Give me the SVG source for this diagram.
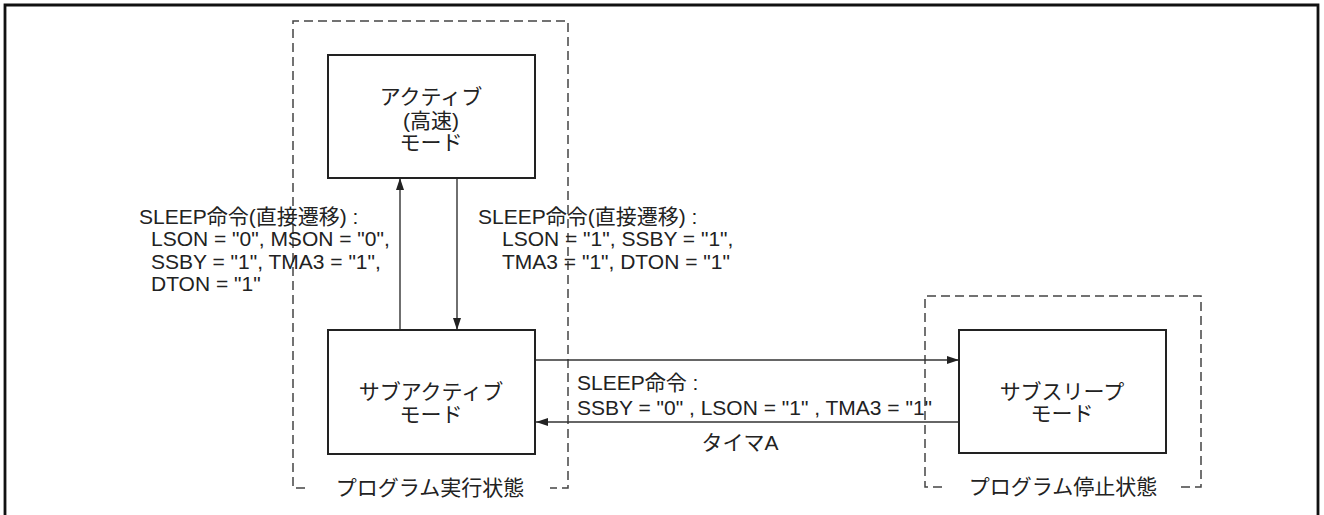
<svg xmlns="http://www.w3.org/2000/svg" width="1324" height="515" viewBox="0 0 1324 515">
<defs>
<style>
.t{font-family:"Liberation Sans","Noto Sans CJK JP",sans-serif;font-size:21px;fill:#222}
.c{text-anchor:middle}
.box{fill:#fff;stroke:#222;stroke-width:2}
.dash{fill:none;stroke:#444;stroke-width:1.5;stroke-dasharray:9 5}
.ln{fill:none;stroke:#333;stroke-width:1.4}
</style>
<marker id="ah" viewBox="0 0 12 8" refX="12" refY="4" markerWidth="12" markerHeight="8" markerUnits="userSpaceOnUse" orient="auto">
<path d="M0,0 L12,4 L0,8 Z" fill="#222"/>
</marker>
</defs>
<rect x="0" y="0" width="1324" height="515" fill="#fff"/>
<path d="M5,520 V5 H1318 V520" fill="none" stroke="#111" stroke-width="2.8"/>

<g id="group-run">
<path class="dash" d="M305,488 H293 V21 H568 V488 H550"/>
<text class="t c" x="430" y="495">プログラム実行状態</text>
</g>
<g id="group-stop">
<path class="dash" d="M942,487 H925 V296 H1201 V487 H1180"/>
<text class="t c" x="1063" y="494">プログラム停止状態</text>
</g>

<g id="connectors">
<line class="ln" x1="400" y1="330" x2="400" y2="178" marker-end="url(#ah)"/>
<line class="ln" x1="457" y1="178" x2="457" y2="330" marker-end="url(#ah)"/>
<line class="ln" x1="535" y1="360" x2="959" y2="360" marker-end="url(#ah)"/>
<line class="ln" x1="959" y1="422" x2="536" y2="422" marker-end="url(#ah)"/>
<text class="t"><tspan x="139" y="224">SLEEP命令(直接遷移) :</tspan><tspan x="151" y="246">LSON = "0", MSON = "0",</tspan><tspan x="151" y="269">SSBY = "1", TMA3 = "1",</tspan><tspan x="151" y="291">DTON = "1"</tspan></text>
<text class="t"><tspan x="478" y="224">SLEEP命令(直接遷移) :</tspan><tspan x="502" y="246">LSON = "1", SSBY = "1",</tspan><tspan x="502" y="269">TMA3 = "1", DTON = "1"</tspan></text>
<text class="t"><tspan x="577" y="390">SLEEP命令 :</tspan><tspan x="577" y="415">SSBY = "0" , LSON = "1" , TMA3 = "1"</tspan></text>
<text class="t c" x="740" y="450">タイマA</text>
</g>

<g id="active">
<rect class="box" x="328" y="55" width="207" height="123"/>
<text class="t c"><tspan x="431" y="104">アクティブ</tspan><tspan x="431" y="128">(高速)</tspan><tspan x="431" y="150">モード</tspan></text>
</g>
<g id="subactive">
<rect class="box" x="328" y="330" width="207" height="124"/>
<text class="t c"><tspan x="431" y="399">サブアクティブ</tspan><tspan x="431" y="422">モード</tspan></text>
</g>
<g id="subsleep">
<rect class="box" x="959" y="330" width="207" height="123"/>
<text class="t c"><tspan x="1062" y="399">サブスリープ</tspan><tspan x="1062" y="421">モード</tspan></text>
</g>
</svg>
